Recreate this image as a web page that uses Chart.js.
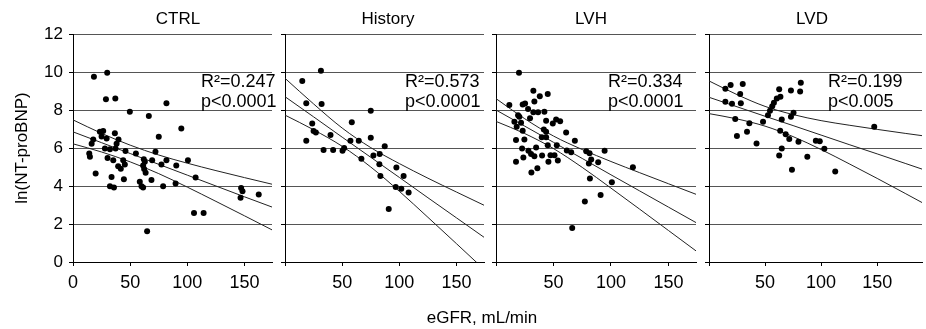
<!DOCTYPE html>
<html>
<head>
<meta charset="utf-8">
<script src="https://cdn.jsdelivr.net/npm/chart.js@4.4.0/dist/chart.umd.min.js"></script>
<style>
    body { margin: 0; background: #fff; }
    #wrap { position: relative; width: 926px; height: 329px; font-family: "Liberation Sans", Arial, sans-serif; }
    #wrap canvas { position: absolute; left: 0; top: 0; }
    #xTitle { position: absolute; left: 382px; width: 200px; top: 308px; text-align: center; font-size: 17px; color: #000; }
</style>
</head>
<body>
<div id="wrap">
    <canvas id="c0" width="926" height="329"></canvas>
    <canvas id="c1" width="926" height="329"></canvas>
    <canvas id="c2" width="926" height="329"></canvas>
    <canvas id="c3" width="926" height="329"></canvas>
    <div id="xTitle">eGFR, mL/min</div>
</div>
<script>
// Panel labels
const panelNames = ['CTRL', 'History', 'LVH', 'LVD'];
const r2Labels = ['R²=0.247', 'R²=0.573', 'R²=0.334', 'R²=0.199'];
const pLabels = ['p<0.0001', 'p<0.0001', 'p<0.0001', 'p<0.005'];
const yTicks = [0, 2, 4, 6, 8, 10, 12];
const xTicks = [0, 50, 100, 150];

// Scatter points (eGFR, ln NT-proBNP)
const ctrlX = [18.3, 29.9, 28.8, 37.0, 49.7, 66.3, 81.7, 94.7, 75.0, 100.5, 107.2, 105.8, 114.2, 147.0, 148.2, 146.5, 162.4, 64.8, 14.2, 14.8, 19.8, 17.7, 16.3, 23.5, 26.4, 25.0, 29.4, 27.9, 32.3, 36.6, 39.8, 38.1, 37.2, 30.2, 35.2, 39.5, 43.9, 41.8, 45.3, 33.7, 32.3, 35.8, 44.5, 45.9, 55.0, 61.9, 62.8, 61.3, 62.2, 63.5, 58.4, 59.9, 61.3, 68.6, 69.2, 72.1, 77.3, 81.7, 78.8, 90.3, 89.7];
const ctrlY = [9.75, 9.96, 8.56, 8.61, 7.91, 7.68, 8.35, 7.03, 6.59, 5.36, 4.45, 2.58, 2.58, 3.90, 3.73, 3.38, 3.55, 1.62, 5.71, 5.54, 4.66, 6.45, 6.23, 6.85, 6.90, 6.60, 6.50, 5.98, 5.93, 6.78, 6.45, 6.23, 5.98, 5.48, 5.36, 5.04, 5.36, 4.91, 5.13, 4.48, 3.99, 3.92, 4.36, 5.84, 5.71, 5.41, 5.27, 5.08, 4.90, 4.70, 4.22, 3.99, 3.92, 4.31, 5.36, 5.80, 5.13, 5.36, 3.99, 5.08, 4.13];

const histX = [31.4, 15.1, 18.6, 32.0, 75.0, 58.4, 23.8, 25.0, 27.0, 18.6, 39.8, 33.7, 42.1, 50.3, 51.7, 57.2, 64.5, 75.0, 66.8, 77.3, 82.8, 87.2, 82.5, 83.4, 97.4, 103.7, 96.8, 101.7, 108.1, 90.7];
const histY = [10.07, 9.53, 8.35, 8.31, 7.96, 7.35, 7.29, 6.89, 6.82, 6.38, 6.68, 5.89, 5.90, 5.85, 6.00, 6.38, 6.38, 6.54, 5.43, 5.60, 5.68, 6.09, 5.15, 4.52, 4.98, 4.52, 3.95, 3.85, 3.66, 2.79];

const lvhX = [20.0, 32.5, 38.1, 45.0, 33.4, 11.6, 23.2, 25.3, 27.9, 32.5, 36.6, 42.1, 19.2, 20.3, 29.6, 16.0, 21.8, 43.6, 52.3, 49.4, 55.8, 18.0, 23.2, 41.6, 43.6, 61.0, 17.4, 24.7, 39.8, 43.6, 68.6, 45.0, 52.9, 22.7, 34.9, 28.2, 30.5, 33.4, 40.1, 47.4, 50.9, 61.6, 65.4, 23.8, 17.4, 45.6, 53.8, 36.0, 30.8, 78.5, 81.4, 94.5, 82.8, 80.8, 88.9, 119.1, 81.7, 100.8, 91.0, 77.3, 66.3];
const lvhY = [9.96, 9.01, 8.73, 8.84, 8.45, 8.26, 8.29, 8.34, 8.05, 7.88, 7.88, 7.91, 7.73, 7.65, 7.56, 7.38, 7.33, 7.43, 7.50, 7.29, 7.41, 7.12, 6.91, 6.98, 6.85, 6.82, 6.42, 6.45, 6.56, 6.56, 6.38, 6.15, 6.15, 5.98, 6.03, 5.85, 5.68, 5.57, 5.60, 5.62, 5.62, 5.87, 5.78, 5.50, 5.27, 5.27, 5.34, 4.94, 4.71, 5.83, 5.73, 5.85, 5.39, 5.18, 5.25, 4.99, 4.40, 4.20, 3.52, 3.18, 1.79];

const lvdX = [19.3, 30.1, 14.6, 27.8, 14.6, 20.5, 28.4, 62.6, 73.1, 81.9, 81.3, 63.7, 60.5, 57.9, 56.4, 54.4, 52.6, 75.4, 73.1, 64.9, 23.4, 36.0, 48.2, 33.9, 24.9, 42.4, 63.5, 68.4, 71.6, 79.8, 95.3, 98.8, 102.9, 64.9, 62.6, 87.7, 74.0, 112.6, 147.4];
const lvdY = [9.31, 9.37, 9.12, 8.84, 8.43, 8.33, 8.36, 9.09, 9.02, 9.44, 8.98, 8.70, 8.60, 8.38, 8.20, 7.96, 7.73, 7.85, 7.64, 7.50, 7.52, 7.30, 7.38, 6.85, 6.63, 6.24, 6.91, 6.72, 6.47, 6.33, 6.38, 6.36, 5.96, 5.98, 5.61, 5.54, 4.85, 4.76, 7.12];

// Regression line and 95% band, read at these eGFR values
const bandX = [0, 25, 50, 75, 100, 125, 150, 175];
const lvdBandX = [0, 25, 50, 75, 100, 125, 150, 175, 190];

const ctrlFit = [6.85, 6.28, 5.71, 5.14, 4.57, 4.00, 3.43, 2.87];
const ctrlUpper = [7.48, 6.77, 6.15, 5.63, 5.20, 4.81, 4.44, 4.08];
const ctrlLower = [6.22, 5.79, 5.27, 4.65, 3.94, 3.19, 2.43, 1.66];

const histFit = [8.70, 7.64, 6.57, 5.51, 4.45, 3.38, 2.32, 1.26];
const histUpper = [9.67, 8.32, 7.05, 6.02, 5.18, 4.41, 3.68, 2.96];
const histLower = [7.73, 6.96, 6.09, 5.00, 3.72, 2.35, 0.96, -0.44];

const lvhFit = [8.00, 7.15, 6.30, 5.45, 4.59, 3.74, 2.89, 2.04];
const lvhUpper = [8.60, 7.54, 6.63, 5.92, 5.29, 4.70, 4.12, 3.54];
const lvhLower = [7.40, 6.76, 5.97, 4.98, 3.89, 2.78, 1.66, 0.54];

const lvdFit = [8.67, 8.17, 7.67, 7.18, 6.68, 6.18, 5.69, 5.19, 4.89];
const lvdUpper = [9.53, 8.81, 8.19, 7.76, 7.44, 7.20, 6.98, 6.77, 6.65];
const lvdLower = [7.81, 7.53, 7.15, 6.60, 5.92, 5.17, 4.40, 3.61, 3.13];

// Layout: pixel box of each plot area and text offsets from its left edge
const panelBox = [
    { left: 73, right: 272, xMax: 174, titleX: 105, textX: 128 },
    { left: 285, right: 484, xMax: 174, titleX: 103, textX: 120 },
    { left: 496, right: 696, xMax: 174, titleX: 95, textX: 112 },
    { left: 709, right: 926, xMax: 190, titleX: 103, textX: 119 }
];
const plotTop = 34;
const plotBottom = 262;
const xAxisHeight = 40;
const FONT = '"Liberation Sans", Arial, sans-serif';

function toPoints(xs, ys) {
    return xs.map((x, i) => ({ x: x, y: ys[i] }));
}

// Panel title and R²/p annotation
const panelText = {
    id: 'panelText',
    afterDraw(chart, args, opts) {
        const { ctx, chartArea } = chart;
        ctx.save();
        ctx.fillStyle = '#000';
        ctx.textBaseline = 'middle';
        ctx.textAlign = 'center';
        ctx.font = '17px ' + FONT;
        ctx.fillText(opts.title, chartArea.left + opts.titleX, 19);
        ctx.textAlign = 'left';
        ctx.font = '18px ' + FONT;
        ctx.fillText(opts.r2, chartArea.left + opts.textX, 82);
        ctx.fillText(opts.p, chartArea.left + opts.textX, 102);
        ctx.restore();
    }
};

function makePanel(i, xs, ys, lineX, fit, upper, lower) {
    const box = panelBox[i];
    const first = i === 0;
    const yWidth = first ? 73 : 5;
    const lineStyle = {
        showLine: true,
        pointRadius: 0,
        borderColor: '#222',
        borderWidth: 1,
        cubicInterpolationMode: 'monotone',
        fill: false
    };

    return new Chart(document.getElementById('c' + i), {
        type: 'scatter',
        data: {
            datasets: [
                {
                    data: toPoints(xs, ys),
                    pointRadius: 3,
                    pointBackgroundColor: '#000',
                    pointBorderWidth: 0
                },
                Object.assign({ data: toPoints(lineX, upper) }, lineStyle),
                Object.assign({ data: toPoints(lineX, fit) }, lineStyle),
                Object.assign({ data: toPoints(lineX, lower) }, lineStyle)
            ]
        },
        options: {
            responsive: false,
            animation: false,
            layout: {
                padding: {
                    left: box.left - yWidth,
                    right: 926 - box.right,
                    top: plotTop,
                    bottom: 329 - plotBottom - xAxisHeight
                }
            },
            plugins: {
                legend: { display: false },
                tooltip: { enabled: false },
                panelText: {
                    title: panelNames[i],
                    r2: r2Labels[i],
                    p: pLabels[i],
                    titleX: box.titleX,
                    textX: box.textX
                }
            },
            scales: {
                x: {
                    type: 'linear',
                    min: 0,
                    max: box.xMax,
                    afterBuildTicks: axis => { axis.ticks = xTicks.map(v => ({ value: v })); },
                    afterFit: axis => { axis.height = xAxisHeight; },
                    grid: {
                        drawOnChartArea: false,
                        drawTicks: true,
                        tickLength: 4,
                        color: '#000'
                    },
                    border: { color: '#000' },
                    ticks: {
                        color: '#000',
                        padding: 6,
                        maxRotation: 0,
                        autoSkip: false,
                        font: { family: FONT, size: 18 },
                        callback: value => (first || value !== 0) ? value : ''
                    }
                },
                y: {
                    min: 0,
                    max: 12,
                    afterBuildTicks: axis => { axis.ticks = yTicks.map(v => ({ value: v })); },
                    afterFit: axis => { axis.width = yWidth; },
                    grid: {
                        color: '#555',
                        tickColor: '#000',
                        tickLength: 4
                    },
                    border: { color: '#000' },
                    ticks: {
                        display: first,
                        color: '#000',
                        padding: 6,
                        font: { family: FONT, size: 17 }
                    },
                    title: {
                        display: first,
                        text: 'ln(NT-proBNP)',
                        color: '#000',
                        padding: { top: 12, bottom: 0 },
                        font: { family: FONT, size: 17 }
                    }
                }
            }
        },
        plugins: [panelText]
    });
}

makePanel(0, ctrlX, ctrlY, bandX, ctrlFit, ctrlUpper, ctrlLower);
makePanel(1, histX, histY, bandX, histFit, histUpper, histLower);
makePanel(2, lvhX, lvhY, bandX, lvhFit, lvhUpper, lvhLower);
makePanel(3, lvdX, lvdY, lvdBandX, lvdFit, lvdUpper, lvdLower);
</script>
</body>
</html>
